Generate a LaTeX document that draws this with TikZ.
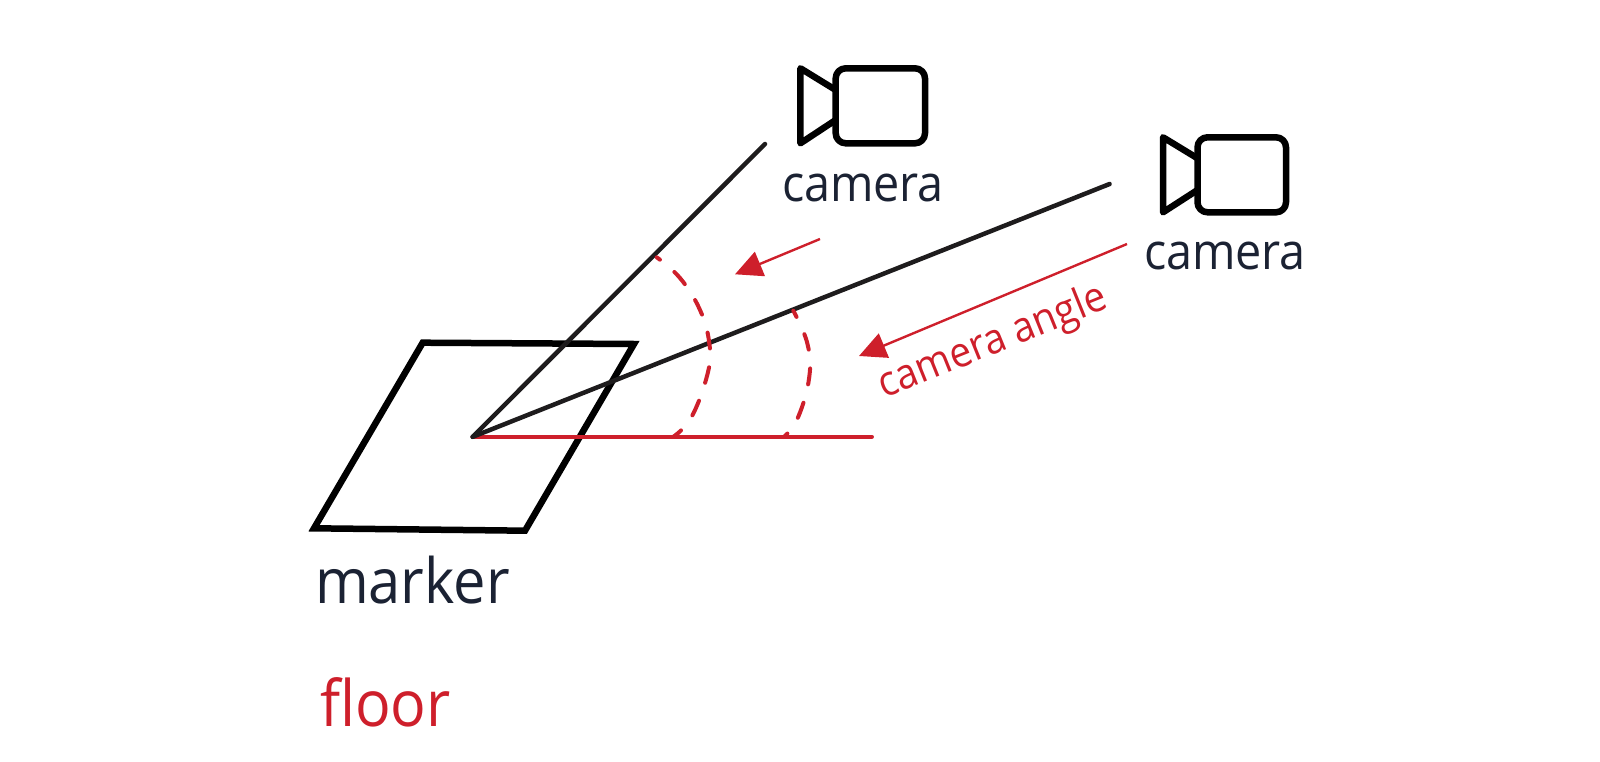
\documentclass[tikz,border=0pt]{standalone}
\usepackage{fontspec}
\setmainfont{Open Sans}[FakeStretch=0.925]
\usetikzlibrary{arrows.meta}
\definecolor{redc}{HTML}{CE1F2B}
\definecolor{inkc}{HTML}{1B2233}
\definecolor{linec}{HTML}{1E1C1D}
\tikzset{
  x=1pt,y=-1pt,
  plate/.style={draw=black,line width=6.5pt,line join=miter},
  icon/.style={draw=black,line width=6.5pt,line join=round,line cap=round},
  ray/.style={draw=linec,line width=4.5pt,line cap=round},
  floorline/.style={draw=redc,line width=4.5pt,line cap=round},
  sweep/.style={draw=redc,line width=4pt,line cap=round,dash pattern=on 16pt off 19pt},
  pointer/.style={draw=redc,line width=2.4pt,-{Triangle[length=27pt,width=26pt,fill=redc]}},
  lbl/.style={inner sep=0pt,outer sep=0pt,anchor=base west,text=inkc},
}
\begin{document}
\begin{tikzpicture}
\useasboundingbox (0,0) rectangle (1600,762);
\coordinate (V) at (472.7,436.8);
\coordinate (E1) at (765,144);
\coordinate (E2) at (1109.6,184);
\coordinate (E3) at (871.7,436.8);
\coordinate (A1s) at (820,239);
\coordinate (A1e) at (735,274.3);
\coordinate (A2s) at (1127,244);
\coordinate (A2e) at (859,356);
% marker plate
\draw[plate] (422.7,342.7) -- (634,344) -- (525,530.7) -- (314,528.3) -- cycle;
% floor and rays
\draw[floorline] (V) -- (E3);
\draw[ray] (V) -- (E1);
\draw[ray] (V) -- (E2);
% sweep arcs
\draw[sweep,dash phase=12pt] plot[smooth,tension=0.7] coordinates {(656.7,257.3) (680,278) (700,310) (709.3,343.3) (708,372) (691.7,416.7) (673,437)};
\draw[sweep,dash phase=9pt] plot[smooth,tension=0.7] coordinates {(793.3,310.7) (807.3,343.3) (809.3,376.7) (798.3,416.7) (784,437)};
% arrows
\draw[pointer] (A1s) -- (A1e);
\draw[pointer] (A2s) -- (A2e);
% camera 1
\draw[icon] (835.7,90) -- (800.4,68.3) -- (800.4,143.3) -- (835.7,120);
\draw[icon,rounded corners=10pt] (835.7,68.3) rectangle (925,143.3);
% camera 2
\draw[icon] (1197.5,158.3) -- (1163,137.3) -- (1163,212.3) -- (1197.5,190);
\draw[icon,rounded corners=10pt] (1197.5,137.3) rectangle (1286,212.3);
% labels
\node[lbl,font=\fontsize{50.5}{50}\selectfont] (cam1) at (782,201) {camera};
\node[lbl,font=\fontsize{50.5}{50}\selectfont] (cam2) at (1144,269) {camera};
\node[lbl,font=\fontsize{62.5}{62}\selectfont] (mark) at (315,603.3) {marker};
\node[lbl,font=\fontsize{64}{64}\selectfont,text=redc] (floorlbl) at (320,726.5) {floor};
\node[inner sep=0pt,rotate=22,text=redc,font=\fontsize{42}{42}\selectfont] (angle) at (993,343) {camera angle};
\end{tikzpicture}
\end{document}
